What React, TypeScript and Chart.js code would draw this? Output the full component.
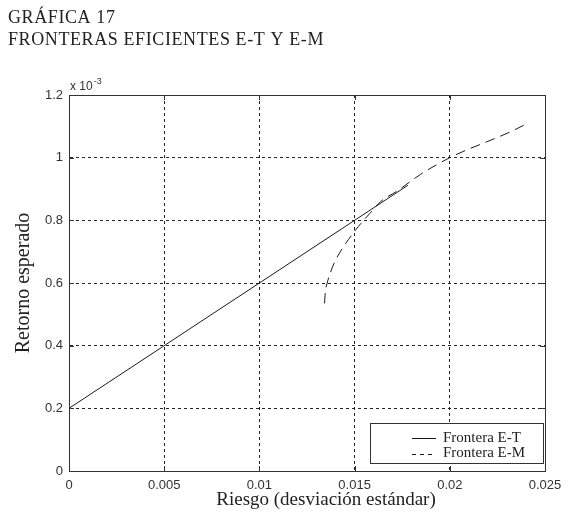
import React, { useEffect, useRef } from 'react';
import { Chart, registerables } from 'chart.js';

Chart.register(...registerables);

// ---- text ----
const titleLines = ['GRÁFICA 17', 'FRONTERAS EFICIENTES E-T Y E-M'];
const xAxisTitle = 'Riesgo (desviación estándar)';
const yAxisTitle = 'Retorno esperado';
const yExponentBase = 'x 10';
const yExponentPower = '-3';

// ---- ticks ----
const xTicks = [0, 0.005, 0.01, 0.015, 0.02, 0.025];
const xTickLabels = ['0', '0.005', '0.01', '0.015', '0.02', '0.025'];
const yTicks = [0, 0.2, 0.4, 0.6, 0.8, 1, 1.2];
const yTickLabels = ['0', '0.2', '0.4', '0.6', '0.8', '1', '1.2'];

// ---- series (return in units of 10^-3) ----
const etLabel = 'Frontera E-T';
const etRisk = [0, 0.0178];
const etReturn = [0.2, 0.912];

const emLabel = 'Frontera E-M';
const emRisk = [0.01342, 0.01346, 0.01356, 0.01374, 0.014, 0.01442, 0.01505, 0.0154, 0.0158, 0.01637, 0.0172, 0.01847, 0.02, 0.0209, 0.022, 0.0232, 0.0239];
const emReturn = [0.535, 0.57, 0.6, 0.635, 0.673, 0.716, 0.769, 0.795, 0.822, 0.86, 0.892, 0.947, 1.0, 1.025, 1.052, 1.083, 1.104];

const LINE_COLOR = '#1a1a1a';
const TEXT_COLOR = '#222';
const SERIF = '"Liberation Serif", "DejaVu Serif", serif';
const SANS = '"Liberation Sans", Arial, sans-serif';

const decorPlugin = {
  id: 'decor',
  afterDraw(chart: any) {
    const { ctx, chartArea: a, scales } = chart;
    ctx.save();
    // axes box
    ctx.setLineDash([]);
    ctx.strokeStyle = '#333';
    ctx.lineWidth = 1;
    ctx.strokeRect(a.left + 0.5, a.top + 0.5, a.right - a.left, a.bottom - a.top);
    // inward tick marks
    ctx.beginPath();
    xTicks.forEach((v) => {
      const px = Math.round(scales.x.getPixelForValue(v)) + 0.5;
      ctx.moveTo(px, a.bottom); ctx.lineTo(px, a.bottom - 5);
      ctx.moveTo(px, a.top); ctx.lineTo(px, a.top + 5);
    });
    yTicks.forEach((v) => {
      const py = Math.round(scales.y.getPixelForValue(v)) + 0.5;
      ctx.moveTo(a.left, py); ctx.lineTo(a.left + 5, py);
      ctx.moveTo(a.right, py); ctx.lineTo(a.right - 5, py);
    });
    ctx.stroke();

    // figure title
    ctx.fillStyle = TEXT_COLOR;
    ctx.font = `18px ${SERIF}`;
    ctx.textAlign = 'left';
    ctx.textBaseline = 'alphabetic';
    (ctx as any).letterSpacing = '0.6px';
    ctx.fillText(titleLines[0], 8, 23);
    ctx.fillText(titleLines[1], 8, 45);
    (ctx as any).letterSpacing = '0px';

    // x axis title
    ctx.font = `19px ${SERIF}`;
    ctx.textAlign = 'center';
    ctx.textBaseline = 'middle';
    ctx.fillText(xAxisTitle, 326, 500);
    ctx.textAlign = 'left';
    ctx.textBaseline = 'alphabetic';

    // exponent
    ctx.font = `12px ${SANS}`;
    ctx.fillStyle = '#333';
    ctx.fillText(yExponentBase, a.left + 1, a.top - 5);
    const w = ctx.measureText(yExponentBase).width;
    ctx.font = `9px ${SANS}`;
    ctx.fillText(yExponentPower, a.left + 2 + w, a.top - 11);

    // legend
    const bx = 370.5, by = 423.5, bw = 173, bh = 40;
    ctx.fillStyle = '#fff';
    ctx.fillRect(bx, by, bw, bh);
    ctx.strokeStyle = '#333';
    ctx.strokeRect(bx, by, bw, bh);
    ctx.font = `15px ${SERIF}`;
    ctx.textBaseline = 'middle';
    chart.data.datasets.forEach((ds: any, i: number) => {
      const y = 438 + i * 15.5;
      ctx.strokeStyle = LINE_COLOR;
      ctx.setLineDash(ds.borderDash && ds.borderDash.length ? [4, 4] : []);
      ctx.beginPath();
      ctx.moveTo(412, Math.round(y) + 0.5);
      ctx.lineTo(436, Math.round(y) + 0.5);
      ctx.stroke();
      ctx.setLineDash([]);
      ctx.fillStyle = TEXT_COLOR;
      ctx.fillText(ds.label, 443, y);
    });
    ctx.restore();
  },
};

export default function App() {
  const canvasRef = useRef<HTMLCanvasElement | null>(null);

  useEffect(() => {
    if (!canvasRef.current) return;
    const chart = new Chart(canvasRef.current, {
      type: 'line',
      data: {
        datasets: [
          {
            label: etLabel,
            data: etRisk.map((x, i) => ({ x, y: etReturn[i] })),
            borderColor: LINE_COLOR,
            borderWidth: 1,
            pointRadius: 0,
            fill: false,
          },
          {
            label: emLabel,
            data: emRisk.map((x, i) => ({ x, y: emReturn[i] })),
            borderColor: LINE_COLOR,
            borderWidth: 1,
            borderDash: [10, 6],
            pointRadius: 0,
            fill: false,
            cubicInterpolationMode: 'monotone',
          },
        ],
      },
      options: {
        animation: false,
        responsive: false,
        devicePixelRatio: 1,
        layout: { padding: { left: 0, right: 35, top: 95, bottom: 0 } },
        plugins: { legend: { display: false }, tooltip: { enabled: false } },
        scales: {
          x: {
            type: 'linear',
            min: 0,
            max: 0.025,
            afterBuildTicks: (s: any) => { s.ticks = xTicks.map((v) => ({ value: v })); },
            afterFit: (s: any) => { s.height = 54; },
            ticks: {
              callback: (_v: any, i: number) => xTickLabels[i],
              font: { family: SANS, size: 13 },
              color: '#333',
              padding: 7,
              maxRotation: 0,
            },
            grid: { color: '#222', lineWidth: 1, drawTicks: false },
            border: { display: true, color: '#333', dash: [3, 3] },
            title: { display: false },
          },
          y: {
            type: 'linear',
            min: 0,
            max: 1.2,
            afterBuildTicks: (s: any) => { s.ticks = yTicks.map((v) => ({ value: v })); },
            afterFit: (s: any) => { s.width = 69; },
            ticks: {
              callback: (_v: any, i: number) => yTickLabels[i],
              font: { family: SANS, size: 13 },
              color: '#333',
              padding: 6,
            },
            grid: { color: '#222', lineWidth: 1, drawTicks: false },
            border: { display: true, color: '#333', dash: [3, 3] },
            title: {
              display: true,
              text: yAxisTitle,
              font: { family: SERIF, size: 20 },
              color: TEXT_COLOR,
              padding: { top: 12, bottom: 0 },
            },
          },
        },
      },
      plugins: [decorPlugin],
    } as any);
    return () => chart.destroy();
  }, []);

  return (
    <div style={{ position: 'absolute', left: 0, top: 0, width: 580, height: 525, background: '#fff' }}>
      <canvas ref={canvasRef} width={580} height={525} />
    </div>
  );
}
